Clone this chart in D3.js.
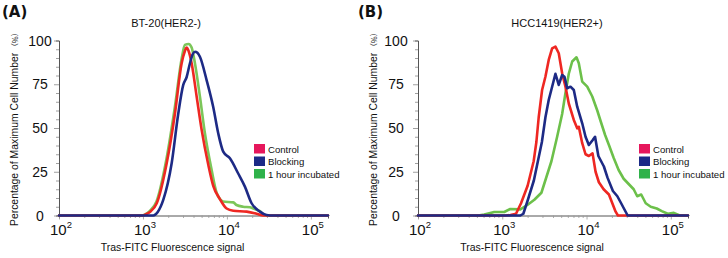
<!DOCTYPE html>
<html><head><meta charset="utf-8">
<script src="https://cdn.jsdelivr.net/npm/d3@7"></script>
<style>html,body{margin:0;padding:0;background:#fff;}svg{display:block;}</style>
</head><body>
<svg id="chart" width="728" height="258"></svg>
<script>
// ---- data ----
const seriesNames = ["Control", "Blocking", "1 hour incubated"];
const panelLabels = ["(A)", "(B)"];
const panelTitles = ["BT-20(HER2-)", "HCC1419(HER2+)"];
const xTicks = [100, 1000, 10000, 100000];
const yTicks = [0, 25, 50, 75, 100];

// Panel A: [signal, % of max]
const controlA = [[100,0],[1000,0],[1060,0.5],[1210,2],[1460,7],[1920,30],[2400,58],[2890,87],[3160,94],[3310,96],[3500,94],[3800,87],[4360,68],[5000,49],[6000,29],[6870,17],[8250,9.4],[9920,4],[11900,2.7],[17200,2.2],[22600,1],[27000,0],[160000,0]];
const blockingA = [[100,0],[1330,0],[1500,2],[1745,8.9],[2200,30],[2630,58],[3020,74.6],[3310,79],[3630,87],[3900,92],[4160,93.6],[4450,93],[4770,90.7],[5730,77.4],[6870,62],[7880,47],[9040,36.5],[10860,32.7],[13630,24],[16380,16.5],[19680,7],[24710,2.2],[29700,0.3],[35600,0],[160000,0]];
const incubatedA = [[100,0],[1000,0],[1050,0.5],[1200,2.5],[1450,8],[1900,32],[2400,62],[2900,90],[3160,97.5],[3500,98],[3800,96],[4160,87],[4770,68],[5470,47],[6580,26],[7540,13],[8250,9.4],[9000,8],[11900,7.5],[13000,6],[15600,5],[18800,4.7],[20600,4],[24700,2.5],[28400,0],[160000,0]];

// Panel B
const controlB = [[100,0],[1086,0],[1250,0.3],[1456,1],[1670,7],[2000,17],[2358,31],[2540,42],[2705,56],[2969,71.7],[3250,79.3],[3558,88.9],[3906,95.5],[4276,96.5],[4680,92.7],[5136,81.3],[5623,73.6],[6156,64],[7062,54.6],[7751,49.8],[8096,50.7],[8888,41.3],[9730,35],[10650,34],[11790,35.5],[12800,25],[14010,19],[15940,15],[18430,12],[20230,7],[22140,2.2],[23590,0],[160000,0]];
const blockingB = [[100,0],[1638,0],[1778,1],[1984,8],[2371,20],[2953,42],[3250,56],[3558,66],[3906,73.6],[4276,81],[4680,74.6],[5136,80.3],[5472,79.3],[5891,72.7],[6449,73.6],[7062,71.7],[7751,62.2],[8888,52.7],[9730,45],[10650,40.3],[11790,43],[12620,45],[13820,34],[16070,28],[17780,21.5],[20560,14],[23210,11],[25740,7],[27770,4],[30770,0],[160000,0]];
const incubatedB = [[100,0],[518,0],[611,0.5],[803,2],[1056,2],[1245,3.7],[1638,3.5],[1984,6],[2404,9],[2913,13],[3341,22],[3831,31],[4479,45],[5136,58],[5623,70],[6156,81],[6757,88],[7603,90.4],[8096,87],[8888,76.5],[10193,73.6],[11695,68],[13410,60],[14680,54],[16610,46],[18530,40],[20960,33],[24040,26],[27580,21],[31620,18],[36270,15],[39930,11],[44560,12],[50400,7],[57810,5],[68130,4],[78160,2.5],[92100,1],[108600,1.5],[128000,0],[160000,0]];

const panelsData = [
  [controlA, blockingA, incubatedA],
  [controlB, blockingB, incubatedB]
];

// ---- styles / layout ----
const lineColors = [["#ee2722", "#1d2a85", "#7cc65a"], ["#ee2722", "#1d2a85", "#6cc04a"]];
const legendColors = ["#e6175c", "#1b2a87", "#2fb24a"];
const drawOrder = [[2, 0, 1], [2, 0, 1]];
const layouts = [
  {x0: 59, x1: 328, titleX: 166, labelX: 2, legendX: 254, yTitleX: 18, yLabX: 40},
  {x0: 418, x1: 688, titleX: 557, labelX: 358, legendX: 639, yTitleX: 377, yLabX: 396}
];
const yTop = 40.5, yBot = 215.5;
const font = "'Liberation Sans', Arial, sans-serif";

const svg = d3.select("#chart");

layouts.forEach((L, pi) => {
  const g = svg.append("g");
  const x = d3.scaleLog().domain([100, 160000]).range([L.x0, L.x1]);
  const y = d3.scaleLinear().domain([0, 100]).range([yBot, yTop]);

  // Y axis: minor ticks every 5
  const yAxis = d3.axisLeft(y).tickValues(d3.range(0, 101, 5)).tickSize(3).tickFormat("");
  const ya = g.append("g").attr("transform", `translate(${L.x0},0)`).call(yAxis);
  ya.select(".domain").attr("stroke", "#555").attr("stroke-width", 1);
  ya.selectAll(".tick line").attr("stroke", "#888").attr("stroke-width", 0.8)
    .attr("x2", d => (d % 25 === 0 ? -5 : -3));
  // Y tick labels (centered column as in the reference)
  g.append("g").selectAll("text").data(yTicks).join("text")
    .attr("x", L.yLabX).attr("y", d => y(d)).attr("dy", "0.36em")
    .attr("text-anchor", "middle").attr("font-family", font).attr("font-size", 14).attr("fill", "#111")
    .text(d => d);

  // X axis with log minor ticks
  const minor = [];
  for (let e = 2; e <= 5; e++) for (let m = 1; m <= 9; m++) { const v = m * Math.pow(10, e); if (v <= 160000) minor.push(v); }
  const xAxis = d3.axisBottom(x).tickValues(minor).tickSize(3).tickFormat("");
  const xa = g.append("g").attr("transform", `translate(0,${yBot})`).call(xAxis);
  xa.select(".domain").attr("stroke", "#555").attr("stroke-width", 1);
  xa.selectAll(".tick line").attr("stroke", "#999").attr("stroke-width", 0.8)
    .attr("y2", d => (xTicks.includes(d) ? 4 : 2.5));

  const xl = g.append("g");
  xTicks.forEach(v => {
    const t = xl.append("text").attr("x", x(v) - 9).attr("y", 235)
      .attr("text-anchor", "start").attr("font-family", font).attr("font-size", 15).attr("fill", "#111");
    t.append("tspan").text("10");
    t.append("tspan").attr("dy", -7).attr("font-size", 9.5).text(String(Math.round(Math.log10(v))));
  });

  // Axis titles
  g.append("text").attr("x", (L.x0 + L.x1) / 2 - 21).attr("y", 251)
    .attr("text-anchor", "middle").attr("font-family", font).attr("font-size", 10.5).attr("fill", "#111")
    .text("Tras-FITC Fluorescence signal");
  const yt = g.append("text").attr("transform", `translate(${L.yTitleX},226) rotate(-90)`)
    .attr("text-anchor", "start").attr("font-family", font).attr("font-size", 10.4).attr("fill", "#111");
  yt.append("tspan").text("Percentage of Maximum Cell Number");
  yt.append("tspan").attr("dx", 2).attr("font-family", "'Noto Sans CJK SC', sans-serif").attr("font-size", 7.5).text("（%）");

  // Panel title and label
  g.append("text").attr("x", L.titleX).attr("y", 26.5).attr("text-anchor", "middle")
    .attr("font-family", font).attr("font-size", 11).attr("fill", "#111").text(panelTitles[pi]);
  g.append("text").attr("x", L.labelX).attr("y", 17).attr("font-family", "'DejaVu Sans', sans-serif")
    .attr("font-weight", "bold").attr("font-size", 15).attr("fill", "#111").text(panelLabels[pi]);

  // Lines
  const line = d3.line().x(d => x(d[0])).y(d => y(d[1]))
    .curve(pi === 0 ? d3.curveMonotoneX : d3.curveLinear);
  drawOrder[pi].forEach(si => {
    g.append("path").datum(panelsData[pi][si]).attr("d", line)
      .attr("fill", "none").attr("stroke", lineColors[pi][si]).attr("stroke-width", 2.6)
      .attr("stroke-linejoin", "round").attr("stroke-linecap", "round");
  });

  // Legend
  seriesNames.forEach((name, i) => {
    const ly = 144 + i * 12.5;
    g.append("rect").attr("x", L.legendX).attr("y", ly).attr("width", 11).attr("height", 9.5)
      .attr("fill", legendColors[i]);
    g.append("text").attr("x", L.legendX + 14).attr("y", ly + 8.5)
      .attr("font-family", font).attr("font-size", 9.6).attr("fill", "#111").text(name);
  });
});
</script>
</body></html>
